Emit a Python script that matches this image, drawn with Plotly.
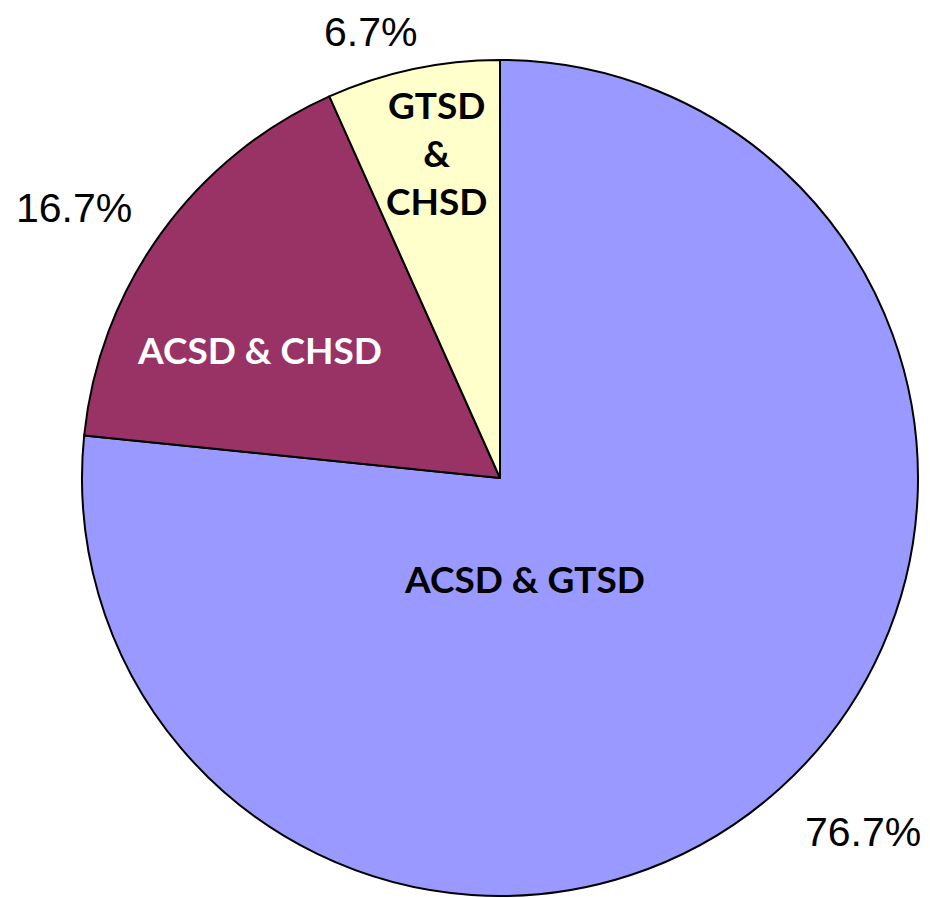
import plotly.graph_objects as go

labels = ["ACSD & GTSD", "ACSD & CHSD", "GTSD & CHSD"]
values = [76.7, 16.7, 6.7]
colors = ["#9999FF", "#993366", "#FFFFCC"]
inner_text = ["ACSD & GTSD", "ACSD & CHSD", "GTSD<br>&<br>CHSD"]
inner_color = ["#000000", "#FFFFFF", "#000000"]
pct_text = ["76.7%", "16.7%", "6.7%"]

# page has an 8px body margin; work in page pixel coordinates and convert
OFF = 8
W, H = 930 - OFF, 898 - OFF
cx, cy, r = 500 - OFF, 478 - OFF, 418

def px(x):
    return (x - OFF) / W

def py(y):
    return 1 - (y - OFF) / H

fig = go.Figure(go.Pie(
    labels=labels, values=values, sort=False, direction="clockwise", rotation=0,
    marker=dict(colors=colors, line=dict(color="black", width=2)),
    textinfo="none", hoverinfo="label+percent", showlegend=False,
    domain=dict(x=[(cx - r) / W, (cx + r) / W], y=[(H - cy - r) / H, min(1, (H - cy + r) / H)]),
))

inner_pos = [(524, 578), (259, 350), (436, 152)]
pct_pos = [(863, 832), (74, 208), (370, 32)]

for t, c, (x, y) in zip(inner_text, inner_color, inner_pos):
    fig.add_annotation(x=px(x), y=py(y), xref="paper", yref="paper", text=f"<b>{t}</b>",
                       showarrow=False, font=dict(family="Lato", size=37, color=c),
                       xanchor="center", yanchor="middle")
for t, (x, y) in zip(pct_text, pct_pos):
    fig.add_annotation(x=px(x), y=py(y), xref="paper", yref="paper", text=t,
                       showarrow=False, font=dict(family="Liberation Sans, Arial", size=41, color="black"),
                       xanchor="center", yanchor="middle")

fig.update_layout(width=W, height=H, margin=dict(l=0, r=0, t=0, b=0),
                  paper_bgcolor="white", plot_bgcolor="white")
fig.write_html("out.html")
